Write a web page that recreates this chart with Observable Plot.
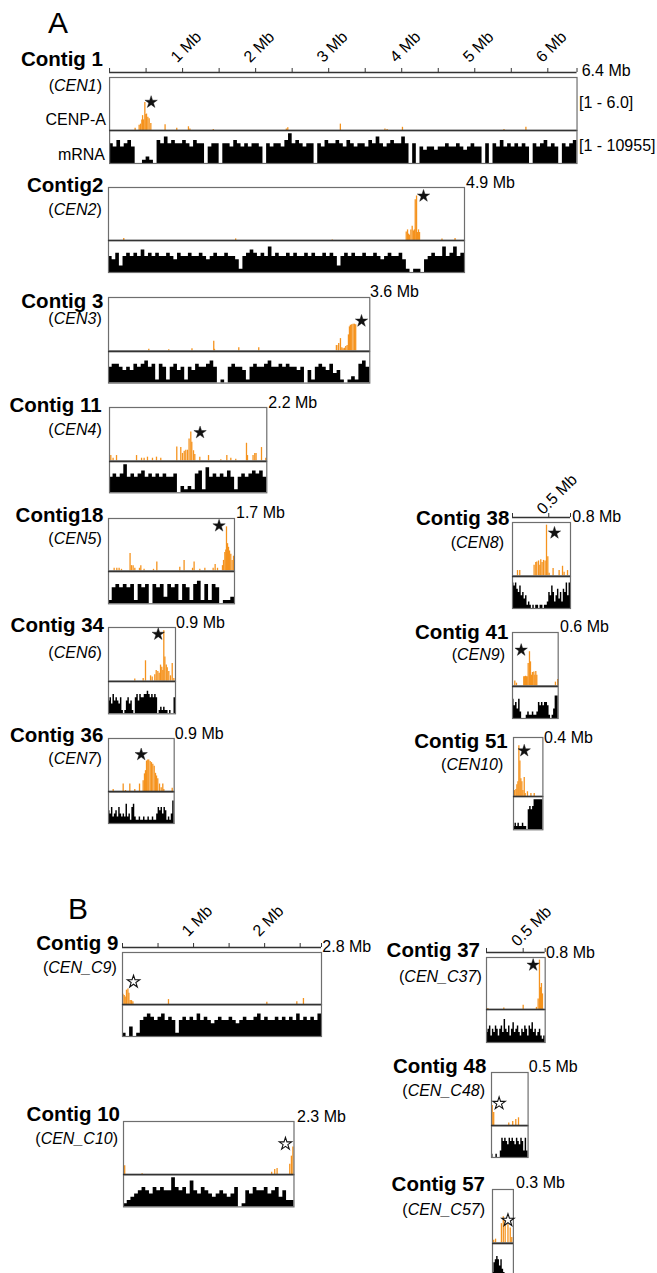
<!DOCTYPE html>
<html><head><meta charset="utf-8">
<script src="https://cdn.jsdelivr.net/npm/d3@7"></script>
<script src="https://cdn.jsdelivr.net/npm/@observablehq/plot@0.6"></script>
<style>
body{margin:0;background:#fff;}
#fig{position:relative;width:657px;height:1273px;overflow:hidden;font-family:"Liberation Sans",Arial,sans-serif;color:#000;background:#fff;}
.lbl{position:absolute;white-space:nowrap;line-height:1;}
</style></head><body><div id="fig"></div>
<script>
// ---------------- DATA ----------------
// CENP-A bars: position (Mb) and height (fraction of track max)
const c1Pos = [0.35,0.405,0.424,0.442,0.452,0.465,0.483,0.497,0.506,0.524,0.542,0.565,0.76,0.92,1.08,1.1,1.42,2.42,2.44,3.16,3.77,3.8,4.01,5.4,5.7];
const c1Val = [0.04,0.1,0.12,0.2,0.28,0.2,0.53,0.3,0.31,0.25,0.22,0.13,0.11,0.04,0.07,0.03,0.02,0.03,0.05,0.12,0.03,0.02,0.06,0.02,0.06];
const c2Pos = [0.21,1.75,3.08,4.098,4.116,4.13,4.143,4.162,4.18,4.198,4.21,4.222,4.24,4.253,4.267,4.281,4.59,4.77];
const c2Val = [0.04,0.03,0.01,0.16,0.2,0.12,0.1,0.2,0.27,0.18,0.2,0.77,0.84,0.15,0.2,0.15,0.03,0.04];
const c3Pos = [0.555,0.83,1.15,1.45,1.46,1.795,2.07,3.14,3.164,3.172,3.196,3.215,3.232,3.25,3.269,3.288,3.306,3.32,3.333,3.351,3.37,3.388,3.406];
const c3Val = [0.03,0.02,0.04,0.18,0.03,0.06,0.06,0.1,0.1,0.14,0.23,0.06,0.04,0.05,0.08,0.1,0.3,0.45,0.48,0.49,0.5,0.5,0.49];
const c11Pos = [0.018,0.05,0.098,0.378,0.448,0.484,0.531,0.601,0.657,0.717,0.941,0.997,1.021,1.045,1.067,1.091,1.113,1.137,1.151,1.175,1.193,1.263,1.385,1.557,1.641,1.697,1.766,1.916,1.93,2.008,2.032,2.05,2.126,2.186];
const c11Val = [0.1,0.05,0.1,0.1,0.05,0.05,0.07,0.05,0.07,0.05,0.26,0.25,0.14,0.18,0.2,0.2,0.41,0.54,0.35,0.19,0.12,0.07,0.1,0.02,0.1,0.05,0.03,0.33,0.1,0.1,0.14,0.14,0.25,0.05];
const c18Pos = [0.076,0.112,0.143,0.175,0.291,0.31,0.332,0.355,0.418,0.436,0.48,0.607,0.652,0.962,1.02,1.134,1.155,1.232,1.3,1.412,1.439,1.471,1.538,1.552,1.57,1.583,1.592,1.606,1.619,1.633,1.65,1.668,1.687];
const c18Val = [0.05,0.05,0.05,0.03,0.33,0.1,0.1,0.05,0.05,0.1,0.03,0.03,0.17,0.07,0.2,0.05,0.17,0.03,0.05,0.05,0.12,0.05,0.1,0.2,0.35,0.4,0.84,0.52,0.45,0.38,0.32,0.2,0.28];
const c34Pos = [0.353,0.466,0.497,0.565,0.587,0.622,0.641,0.663,0.681,0.699,0.716,0.73,0.743,0.757,0.776,0.789,0.81,0.833,0.856,0.878];
const c34Val = [0.04,0.05,0.38,0.1,0.08,0.12,0.2,0.18,0.15,0.3,0.26,0.2,0.94,0.45,0.3,0.25,0.18,0.1,0.33,0.05];
const c36Pos = [0.064,0.201,0.233,0.292,0.36,0.425,0.475,0.493,0.507,0.521,0.538,0.552,0.571,0.589,0.607,0.626,0.644,0.658,0.675,0.699,0.722,0.744,0.758,0.873];
const c36Val = [0.05,0.15,0.03,0.15,0.05,0.15,0.21,0.34,0.4,0.58,0.6,0.6,0.57,0.55,0.52,0.48,0.35,0.3,0.25,0.15,0.08,0.15,0.05,0.07];
const c38Pos = [0.069,0.1,0.298,0.321,0.335,0.359,0.377,0.39,0.408,0.428,0.45,0.469,0.487,0.505,0.56,0.643,0.69,0.712,0.759];
const c38Val = [0.1,0.1,0.2,0.25,0.26,0.28,0.2,0.3,0.25,0.29,0.28,0.95,0.36,0.05,0.14,0.1,0.18,0.07,0.1];
const c41Pos = [0.03,0.052,0.148,0.16,0.171,0.182,0.193,0.206,0.223,0.236,0.249,0.262,0.28,0.293,0.306,0.319,0.564,0.594];
const c41Val = [0.09,0.05,0.17,0.17,0.18,0.17,0.17,0.42,0.64,0.45,0.2,0.25,0.26,0.2,0.27,0.2,0.07,0.12];
const c51Pos = [0.014,0.033,0.046,0.06,0.073,0.087,0.1,0.114,0.128,0.146,0.159,0.19,0.237,0.282];
const c51Val = [0.1,0.12,0.2,0.25,0.86,0.6,0.3,0.25,0.1,0.32,0.05,0.08,0.05,0.05];
const c9Pos = [0.006,0.024,0.038,0.056,0.076,0.09,0.108,0.127,0.146,0.647,2.031,2.453,2.546];
const c9Val = [0.2,0.18,0.15,0.28,0.3,0.22,0.08,0.08,0.06,0.1,0.05,0.06,0.12];
const c37Pos = [0.018,0.236,0.5,0.681,0.704,0.722,0.736,0.749,0.763];
const c37Val = [0.02,0.03,0.08,0.04,0.2,0.95,0.42,0.5,0.3];
const c10Pos = [0.016,0.251,1.999,2.04,2.072,2.243,2.265,2.285];
const c10Val = [0.17,0.02,0.05,0.1,0.12,0.2,0.35,0.52];
const c48Pos = [0.01,0.03,0.236,0.29,0.332,0.369];
const c48Val = [0.38,0.25,0.05,0.08,0.12,0.15];
const c57Pos = [0.017,0.044,0.128,0.155,0.182,0.222,0.255,0.277];
const c57Val = [0.05,0.07,0.36,0.49,0.45,0.35,0.28,0.1];

// Centromere star markers: [Mb, fraction of CENP-A track]
const c1Star=[0.569,0.534], c2Star=[4.336,0.84], c3Star=[3.486,0.56], c11Star=[1.267,0.53], c18Star=[1.492,0.86];
const c34Star=[0.668,0.875], c36Star=[0.448,0.70], c38Star=[0.579,0.805], c41Star=[0.114,0.67], c51Star=[0.146,0.775];
const c9Star=[0.155,0.44], c37Star=[0.636,0.854], c10Star=[2.185,0.58], c48Star=[0.104,0.42], c57Star=[0.222,0.425];

// mRNA coverage per bin (0-10 of track max)
const c1Mrna = [6,5,7,5,6,7,5, 0,0, 1,2,1, 0, 7,6,8,6,7,6,6,7, 6,5,7,6,6, 0, 5,6,6, 0, 6,6,5,7,6,5,6,5,6,6,5, 0, 6,5,6,6,5,7, 9, 6,7,6,5,6,6, 0, 6,5,7,6,6,7, 6,5,7,6,5,6,6,5,7,6, 8, 6,5,6,7,6,6, 8, 6, 0, 6, 0, 5,4,5,5,4,5,5,6,5,5,6,5,4,5,6,5,5, 0, 6, 0, 6,5,7,5,6,5,6,5,6,5, 0, 6,5,6,7,5,6,5, 0, 6,5,6,7];
const c2Mrna = [5,4,6, 2, 5,6,5,6,5, 7, 5,6,5,6,5,5,6,5,4,6,5, 5,6,5,5,6,5,4,5,6,5,5,6,5,5,4, 1, 5,6, 7, 6,5,6,5, 8, 5,6,5,5,6,5,6,5,5,6,5, 6,5,5,6,5,6,5, 2, 5,6,5,6,5,5,6,5,5,6,5,4,5,6,5,5, 6, 4, 1,0,1,1,0, 4,5,6,5,5, 8, 5,6, 8, 5,6];
const c3Mrna = [5,6,6,5,4,5,4,6,5,6,7,5,6, 1, 6,5, 1, 5,6,4,5, 1, 5,4,6,5,5,6,7,5, 0,1,0, 5,6,5,5,4, 1, 5,6,5,5,6,7,5,5,6,5,6,5,5,4,5, 0,4,1, 5,6,5,4,6,3,4, 1,0,1,2,1, 6,7,5];
const c11Mrna = [5,6,5,6, 9, 5,6,5,6, 7, 5,6,5,6,5,6,5,5,6, 0, 2,1,2,1, 6,7, 1, 8, 5,6,5,6,5, 7, 5, 1, 5,6,5,6,7,6,7,5];
const c18Mrna = [1, 5,6,5,6,5,6, 1, 6,5,6, 0, 6,5,6, 2, 6,5,6, 1, 6,5, 1, 6,7, 1, 6, 1, 6,5, 0,1,1,2];
const c34Mrna = [4,5,3,6,4,5,4,3,5, 1,0,1, 4,5,3,4, 1,0, 5,6,4,6,5,5,6,6,7,6,5,6,5,6,5, 0,1, 2,1,2,1,1, 0,1,0,0, 5];
const c36Mrna = [4,3,5,2,3,4,2,5,3,2, 3,2,6,2,3,1,5,6,2,1, 1,2,1,1,2,1,1,2,1,1,2,1,1,3,5, 4,5,3,5,4,1,2,1,3,7];
const c38Mrna = [8,7,8,6, 5,7,4,5, 3,4, 1,2,1,0, 1,0,1,1,0,1,1,0,1,1,2, 5,4,7,5,2, 4,6,3,5,2, 6,5,8,4,8];
const c41Mrna = [6,4,5,3,6,2, 0,0,0, 1,2,1,1,2,1,1,2, 5,4,5,4,5,5,4, 1,0,1, 3,7,7];
const c51Mrna = [1,2,1,2,1,1,2,1,1, 0, 6,7,6,7, 9,9,9,9,9,9];
const c9Mrna = [1,0,3,0,1, 5,6,7,6,5,6,7,5,6,5, 1, 5,6,5,6,5,7,5,6,5,4, 5,6,5,5,6,5,4,5,6,5, 5,6,7,5,6,5,5,6,5,6, 5,6,5,7,5,6,5,6,5,7];
const c37Mrna = [3,4,5,2,4,3,5,4,2,4,5,3,7,4,3,5,2,4,6,3,4,5,3,2,4,3,5,4,2,5,4,6,3,4,2,3,4,2,1,2];
const c10Mrna = [1,2,3, 4,5,6,5,4,6,5,6,5,5, 9, 6,5,6,4, 8, 5,4,6,5,4,3,4,5,4,3,4,6, 0,1, 5,4,6,5,5,6,4,5,6,3,5, 2,2];
const c48Mrna = [1,0,0,1,0,0,2,6,5,6,5,4,6,5,6,5,4,6,5,4,6,5,2,6,2];
const c57Mrna = [1,4,5,6,5,3,5,2,1,0,0,0,0,0,0];

// Axis ticks (Mb) and labelled ticks
const c1Ticks = [0,0.5,1,1.5,2,2.5,3,3.5,4,4.5,5,5.5,6,6.4], c1TickLabels = [1,2,3,4,5,6];
const c38Ticks = [0,0.5,0.8], c38TickLabels = [0.5];
const c9Ticks = [0,0.5,1,1.5,2,2.5,2.8], c9TickLabels = [1,2];
const c37Ticks = [0,0.5,0.8], c37TickLabels = [0.5];

// Contig descriptors
const contigs = [
  {id:"c1", name:"Contig 1", cen:"CEN1", size:6.4, sizeLabel:"6.4 Mb", pos:c1Pos, val:c1Val, mrna:c1Mrna, bin:0.05, star:c1Star, open:false, ticks:c1Ticks, tickLabels:c1TickLabels},
  {id:"c2", name:"Contig2", cen:"CEN2", size:4.9, sizeLabel:"4.9 Mb", pos:c2Pos, val:c2Val, mrna:c2Mrna, bin:0.05, star:c2Star, open:false},
  {id:"c3", name:"Contig 3", cen:"CEN3", size:3.6, sizeLabel:"3.6 Mb", pos:c3Pos, val:c3Val, mrna:c3Mrna, bin:0.05, star:c3Star, open:false},
  {id:"c11", name:"Contig 11", cen:"CEN4", size:2.2, sizeLabel:"2.2 Mb", pos:c11Pos, val:c11Val, mrna:c11Mrna, bin:0.05, star:c11Star, open:false},
  {id:"c18", name:"Contig18", cen:"CEN5", size:1.7, sizeLabel:"1.7 Mb", pos:c18Pos, val:c18Val, mrna:c18Mrna, bin:0.05, star:c18Star, open:false},
  {id:"c34", name:"Contig 34", cen:"CEN6", size:0.9, sizeLabel:"0.9 Mb", pos:c34Pos, val:c34Val, mrna:c34Mrna, bin:0.02, star:c34Star, open:false},
  {id:"c36", name:"Contig 36", cen:"CEN7", size:0.9, sizeLabel:"0.9 Mb", pos:c36Pos, val:c36Val, mrna:c36Mrna, bin:0.02, star:c36Star, open:false},
  {id:"c38", name:"Contig 38", cen:"CEN8", size:0.8, sizeLabel:"0.8 Mb", pos:c38Pos, val:c38Val, mrna:c38Mrna, bin:0.02, star:c38Star, open:false, ticks:c38Ticks, tickLabels:c38TickLabels},
  {id:"c41", name:"Contig 41", cen:"CEN9", size:0.6, sizeLabel:"0.6 Mb", pos:c41Pos, val:c41Val, mrna:c41Mrna, bin:0.02, star:c41Star, open:false},
  {id:"c51", name:"Contig 51", cen:"CEN10", size:0.4, sizeLabel:"0.4 Mb", pos:c51Pos, val:c51Val, mrna:c51Mrna, bin:0.02, star:c51Star, open:false},
  {id:"c9", name:"Contig 9", cen:"CEN_C9", size:2.8, sizeLabel:"2.8 Mb", pos:c9Pos, val:c9Val, mrna:c9Mrna, bin:0.05, star:c9Star, open:true, ticks:c9Ticks, tickLabels:c9TickLabels},
  {id:"c37", name:"Contig 37", cen:"CEN_C37", size:0.8, sizeLabel:"0.8 Mb", pos:c37Pos, val:c37Val, mrna:c37Mrna, bin:0.02, star:c37Star, open:false, ticks:c37Ticks, tickLabels:c37TickLabels},
  {id:"c10", name:"Contig 10", cen:"CEN_C10", size:2.3, sizeLabel:"2.3 Mb", pos:c10Pos, val:c10Val, mrna:c10Mrna, bin:0.05, star:c10Star, open:true},
  {id:"c48", name:"Contig 48", cen:"CEN_C48", size:0.5, sizeLabel:"0.5 Mb", pos:c48Pos, val:c48Val, mrna:c48Mrna, bin:0.02, star:c48Star, open:true},
  {id:"c57", name:"Contig 57", cen:"CEN_C57", size:0.3, sizeLabel:"0.3 Mb", pos:c57Pos, val:c57Val, mrna:c57Mrna, bin:0.02, star:c57Star, open:true}
];

// ---------------- LAYOUT (page pixels) ----------------
const layout = {
  c1:{x0:108.7,x1:576.3,top:77,div:130,bot:163,nameR:103,nameY:58.9,cenR:102,cenY:86,endX:581.7,endY:70.7,axisY:72,labDy:-8.9},
  c2:{x0:108.3,x1:464.3,top:187.3,div:240.3,bot:272.3,nameR:103.3,nameY:185.5,cenR:101.7,cenY:210,endX:466,endY:183.3},
  c3:{x0:108,x1:369.3,top:297.3,div:350.7,bot:382.3,nameR:103.3,nameY:301,cenR:101.7,cenY:319.3,endX:370,endY:291.7},
  c11:{x0:108.7,x1:266,top:407.3,div:460.7,bot:492,nameR:101.7,nameY:405.5,cenR:101.7,cenY:430,endX:268.3,endY:403.3},
  c18:{x0:107.7,x1:233.7,top:518.3,div:570.7,bot:603,nameR:103.3,nameY:515.5,cenR:101.7,cenY:539,endX:236,endY:513.3},
  c34:{x0:108,x1:175,top:627.3,div:681,bot:713.3,nameR:104,nameY:625.5,cenR:101.7,cenY:652.7,endX:176,endY:623.3},
  c36:{x0:108,x1:173.7,top:737.7,div:791.3,bot:823.3,nameR:103.3,nameY:735.5,cenR:101.7,cenY:759,endX:174.7,endY:734.3},
  c38:{x0:511.7,x1:569.7,top:522.3,div:575.7,bot:607.7,nameR:509.3,nameY:517.9,cenR:504,cenY:543.3,endX:572.3,endY:517.3,axisY:516.7,labDy:-1.9},
  c41:{x0:512,x1:557.7,top:632.3,div:685.7,bot:717.7,nameR:508.3,nameY:632.2,cenR:505,cenY:655,endX:560,endY:627.3},
  c51:{x0:513.3,x1:542.7,top:736.7,div:795.7,bot:829,nameR:507.7,nameY:741.2,cenR:503.3,cenY:765,endX:544,endY:738.3},
  c9:{x0:122.3,x1:321.3,top:951.7,div:1004,bot:1036,nameR:118.3,nameY:943.2,cenR:116.7,cenY:968.3,endX:322.3,endY:946.7,axisY:946.7,labDy:-9.9},
  c37:{x0:486,x1:544.7,top:956.7,div:1008.7,bot:1041.7,nameR:480,nameY:950.5,cenR:481.7,cenY:976.7,endX:546,endY:952.7,axisY:951.7,labDy:-4.9},
  c10:{x0:123.3,x1:293.8,top:1121,div:1174.3,bot:1206.7,nameR:120,nameY:1114.5,cenR:118,cenY:1139.3,endX:297,endY:1116.7},
  c48:{x0:491,x1:527.6,top:1072,div:1125.3,bot:1157.3,nameR:486.3,nameY:1066.5,cenR:485,cenY:1090.7,endX:528.8,endY:1067.3},
  c57:{x0:491.7,x1:512.6,top:1189.3,div:1242.7,bot:1275,nameR:485,nameY:1183.9,cenR:485,cenY:1210,endX:516,endY:1183.3}
};

const ORANGE = "#f5931e";
const FONT = '"Liberation Sans", Arial, sans-serif';
const fig = document.getElementById("fig");

function label(html, {left, right, cy, size = 16, weight = "normal"}) {
  const d = document.createElement("div");
  d.className = "lbl";
  d.innerHTML = html;
  d.style.fontSize = size + "px";
  d.style.fontWeight = weight;
  d.style.top = (cy - size / 2) + "px";
  if (left != null) d.style.left = left + "px";
  if (right != null) d.style.right = (657 - right) + "px";
  fig.appendChild(d);
}
function put(svg, left, top) {
  svg.style.position = "absolute";
  svg.style.left = left + "px";
  svg.style.top = top + "px";
  svg.style.background = "transparent";
  svg.style.overflow = "visible";
  svg.style.maxWidth = "none";
  fig.appendChild(svg);
}

label("A", {left: 48, cy: 23, size: 30});
label("B", {left: 68, cy: 909, size: 30});

for (const c of contigs) {
  const L = layout[c.id];
  const w = L.x1 - L.x0;
  const cenH = L.div - L.top, mH = L.bot - L.div;
  const cenData = c.pos.map((p, i) => ({p, v: c.val[i]}));
  const cenPlot = Plot.plot({
    width: w, height: cenH, margin: 0,
    x: {domain: [0, c.size], axis: null},
    y: {domain: [0, 1], axis: null},
    style: {fontFamily: FONT, overflow: "visible", background: "transparent"},
    marks: [
      Plot.ruleX(cenData, {x: "p", y1: 0, y2: "v", stroke: ORANGE, strokeWidth: 1.3}),
      Plot.frame({stroke: "#6e6e6e", strokeWidth: 1.2}),
      Plot.dot([c.star], {x: d => d[0], y: d => d[1], symbol: "star", r: 3.9,
        fill: c.open ? "white" : "#111", stroke: "#111", strokeWidth: c.open ? 1.1 : 0.4})
    ]
  });
  put(cenPlot, L.x0, L.top);

  // step profile: one point per bin start plus closing point at contig end
  const steps = c.mrna.map((v, i) => ({x: i * c.bin, v})).filter(d => d.x < c.size - 1e-9);
  steps.push({x: c.size, v: steps[steps.length - 1].v});
  const mPlot = Plot.plot({
    width: w, height: mH, margin: 0,
    x: {domain: [0, c.size], axis: null},
    y: {domain: [0, 10], axis: null},
    style: {fontFamily: FONT, overflow: "visible", background: "transparent"},
    marks: [
      Plot.areaY(steps, {x: "x", y: "v", curve: "step-after", fill: "#000"}),
      Plot.frame({stroke: "#6e6e6e", strokeWidth: 1.2}),
      Plot.ruleY([10], {stroke: "#333", strokeWidth: 1.5})
    ]
  });
  put(mPlot, L.x0, L.div);

  if (c.ticks) {
    const axH = 50;
    const axPlot = Plot.plot({
      width: w, height: axH + 4, marginTop: axH, marginBottom: 0, marginLeft: 0, marginRight: 0,
      x: {domain: [0, c.size], axis: null},
      y: {domain: [0, 1], axis: null},
      style: {fontFamily: FONT, overflow: "visible", background: "transparent"},
      marks: [
        Plot.tickX(c.ticks, {x: d => d, stroke: "#333", strokeWidth: 1}),
        Plot.ruleY([0], {stroke: "#333", strokeWidth: 1.3}),
        Plot.text(c.tickLabels, {x: d => d, y: 1, text: d => `${d} Mb`, rotate: -45, textAnchor: "start",
          dx: -9, dy: L.labDy, fontSize: 16, fill: "#000"})
      ]
    });
    put(axPlot, L.x0, L.axisY - axH - 4);
  }

  label(c.name, {right: L.nameR, cy: L.nameY, size: 20.5, weight: "bold"});
  label(`(<i>${c.cen}</i>)`, {right: L.cenR, cy: L.cenY, size: 16});
  label(c.sizeLabel, {left: L.endX, cy: L.endY, size: 16});
}

// Track labels and data ranges (Contig 1)
label("CENP-A", {right: 106, cy: 120, size: 16});
label("mRNA", {right: 105, cy: 155, size: 16});
label("[1 - 6.0]", {left: 579, cy: 103, size: 16});
label("[1 - 10955]", {left: 579, cy: 145.7, size: 16});
</script></body></html>
